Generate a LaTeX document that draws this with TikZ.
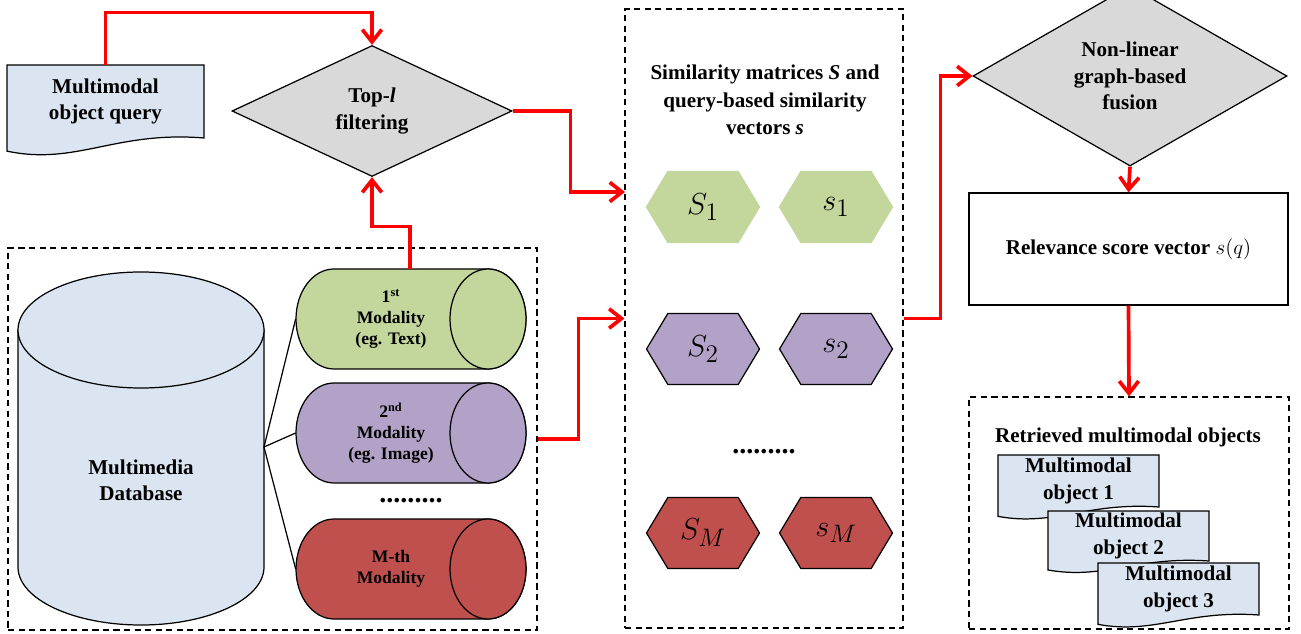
\documentclass[tikz,border=0pt]{standalone}
\usepackage{fontspec}
\setmainfont{Liberation Serif}
\usepackage{amsmath}
\usetikzlibrary{positioning,arrows.meta,shapes.geometric,shapes.symbols,calc}

\definecolor{dbblue}{RGB}{219,229,241}
\definecolor{modgreen}{RGB}{195,214,155}
\definecolor{modpurple}{RGB}{178,162,199}
\definecolor{modred}{RGB}{192,80,77}
\definecolor{diagray}{RGB}{217,217,217}

\newcommand{\mmdoc}[6]{%
  \filldraw[docline] (#2,#3) -- ({#2+#4},#3) -- ({#2+#4},{#3+#5})
    .. controls +({-0.45*#4},{-0.1*#5}) and +({0.35*#4},{0.2*#5}) .. (#2,{#3+1.18*#5}) -- cycle;
  \node[lbl,minimum width={#4*0.02cm},minimum height={#5*0.02cm},inner sep=0pt] (#1) at ({#2+#4/2},{#3+#5/2}) {#6};
}
\newcommand{\modcyl}[5]{%
  \filldraw[link,fill=#4] ({#2-77},{#3-50}) -- ({#2+77},{#3-50})
    arc[start angle=270,end angle=450,x radius=38,y radius=50] -- ({#2-77},{#3+50})
    arc[start angle=90,end angle=270,x radius=38,y radius=50] -- cycle;
  \filldraw[link,fill=#4] ({#2+77},#3) ellipse[x radius=38,y radius=50];
  \node[modtext,minimum width=3.8cm,minimum height=2cm] (#1) at ({#2-20},#3) {#5};
}

\begin{document}
\begin{tikzpicture}[x=0.02cm,y=-0.02cm,
    flow/.style={draw=red,line width=2.1pt,-{Straight Barb[length=7pt,width=11pt]}},
    link/.style={draw=black,line width=0.7pt},
    docline/.style={draw=black,line width=0.7pt,fill=dbblue},
    frame/.style={draw=black,line width=0.7pt,dash pattern=on 3.5pt off 2.5pt,inner sep=0pt},
    lbl/.style={font=\fontsize{12}{15}\selectfont\bfseries,align=center},
    modtext/.style={font=\fontsize{10}{12}\selectfont\bfseries,align=center,inner sep=0pt},
    dotsnode/.style={font=\fontsize{16}{18}\selectfont\bfseries,inner sep=0pt},
    decision/.style={diamond,draw=black,line width=0.7pt,fill=diagray,inner sep=0pt,lbl},
    hexnode/.style={signal,signal to=east and west,signal pointer angle=118,
      minimum width=2.26cm,minimum height=1.42cm,inner sep=0pt,line width=0.7pt,
      font=\fontsize{19}{22}\selectfont}]

\useasboundingbox (0,0) rectangle (1301,634);

\node[frame,minimum width=10.58cm,minimum height=7.64cm] (dbbox) at (272.5,439) {};
\node[frame,minimum width=5.56cm,minimum height=12.38cm] (simbox) at (764,318.5) {};
\node[frame,minimum width=6.4cm,minimum height=4.64cm] (retbox) at (1129,513) {};

\filldraw[link,fill=dbblue] (18,330) -- (18,567)
  arc[start angle=180,end angle=0,x radius=123,y radius=58] -- (264,330) -- cycle;
\filldraw[link,fill=dbblue] (141,330) ellipse[x radius=123,y radius=58];
\node[lbl] (db) at (141,480) {Multimedia\\Database};
\coordinate (dbport) at (264,447);

\modcyl{mod1}{411}{319}{modgreen}{1\textsuperscript{st}\\Modality\\(eg. Text)}
\modcyl{mod2}{411}{433}{modpurple}{2\textsuperscript{nd}\\Modality\\(eg. Image)}
\modcyl{modM}{411}{569}{modred}{M-th\\Modality}
\node[dotsnode] (moddots) at (411,501) {.........};

\draw[link] (dbport) -- (mod1.west);
\draw[link] (dbport) -- (mod2.west);
\draw[link] (dbport) -- (modM.west);

\mmdoc{query}{7}{65}{197}{73}{Multimodal\\object query}
\node[decision,minimum width=5.6cm,minimum height=2.62cm] (topl) at (372,111) {Top-\textit{l}\\filtering};

\node[lbl,font=\fontsize{12}{15.5}\selectfont\bfseries] (simtitle) at (765,100)
  {Similarity matrices \textit{S} and\\query-based similarity\\vectors \textit{s}};
\node[hexnode,fill=modgreen,draw=modgreen] (S1) at (703,207) {$S_1$};
\node[hexnode,fill=modgreen,draw=modgreen] (s1) at (836,207) {$s_1$};
\node[hexnode,fill=modpurple,draw=black] (S2) at (703,349) {$S_2$};
\node[hexnode,fill=modpurple,draw=black] (s2) at (836,349) {$s_2$};
\node[dotsnode] (simdots) at (764,452) {.........};
\node[hexnode,fill=modred,draw=black] (SM) at (703,533) {$S_M$};
\node[hexnode,fill=modred,draw=black] (sM) at (836,533) {$s_M$};

\node[decision,minimum width=6.28cm,minimum height=2.96cm] (fuse) at (1130,76) {Non-linear\\graph-based\\fusion};
\node[draw=black,line width=0.7pt,minimum width=6.38cm,minimum height=2.24cm,lbl] (score) at (1128.5,249)
  {Relevance score vector $s(q)$};
\node[lbl] (rettitle) at (1128,437) {Retrieved multimodal objects};
\mmdoc{obj1}{998}{455}{161}{52}{Multimodal\\object 1}
\mmdoc{obj2}{1048}{511}{161}{50}{Multimodal\\object 2}
\mmdoc{obj3}{1098}{563}{161}{52}{Multimodal\\object 3}

\coordinate (simin) at (625,192);
\draw[flow] (query.north) -- ++(0,-52) -| (topl.north);
\draw[flow] ([xshift=11pt]mod1.north) -- ++(0,-42) -| (topl.south);
\draw[flow] (topl.east) -- ++(58,0) |- (simin);
\draw[flow] (dbbox.east) -- ++(41,0) |- (simbox.west);
\draw[flow] (simbox.east) -- ++(37,0) |- (fuse.west);
\draw[flow] (fuse.south) -- (score.north);
\draw[flow] (score.south) -- (retbox.north);
\end{tikzpicture}
\end{document}
